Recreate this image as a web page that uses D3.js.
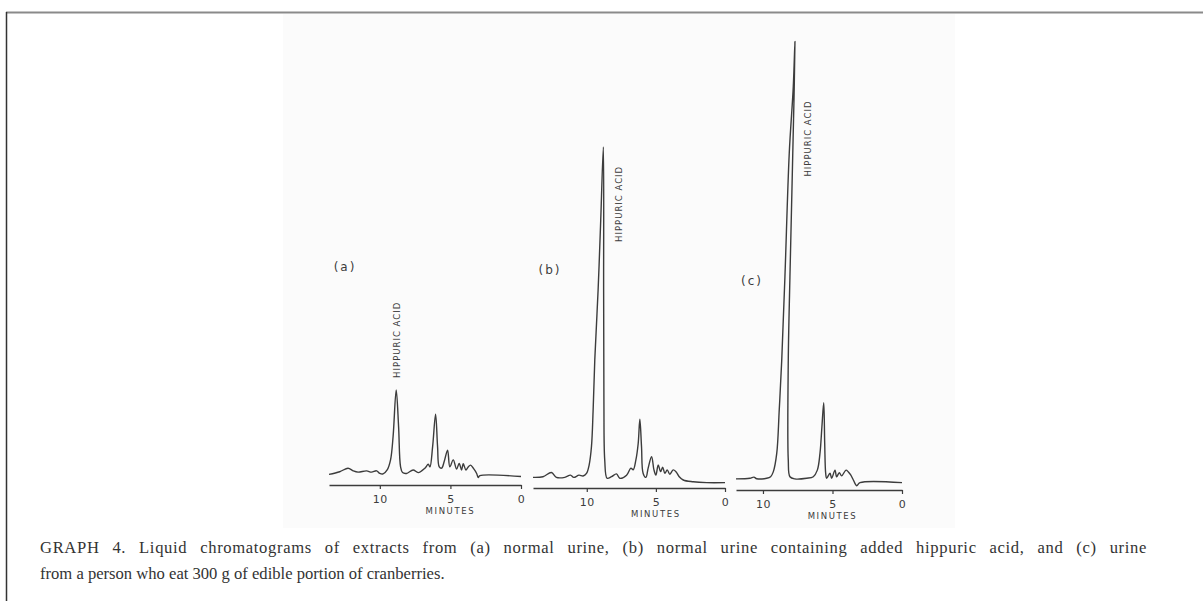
<!DOCTYPE html>
<html>
  <head>
    <title>Liquid chromatograms</title>
    <script src="https://cdn.jsdelivr.net/npm/d3@7"></script>
    <style>
      body { margin: 0; background: #ffffff; }
    </style>
  </head>
  <body>
    <svg width="1203" height="601" id="mainsvg"></svg>
    <script>
        // values (minutes, detector response in % of full scale)
        const timeA = [13.6, 12.84, 12.25, 11.89, 11.54, 10.94, 10.59, 10.23, 10.0, 9.77, 9.48, 9.24, 9.06, 8.84, 8.67, 8.53, 8.39, 8.11, 7.64, 7.28,
            6.81, 6.57, 6.45, 6.26, 6.05, 5.91, 5.79, 5.62, 5.44, 5.20, 5.04, 4.80, 4.56, 4.38, 4.21, 4.09, 3.90, 3.74, 3.57, 3.38,
            3.14, 3.03, 2.91, 0.0];
        const respA = [0.6, 1.2, 2.0, 1.4, 1.1, 1.4, 1.1, 1.4, 0.8, 0.7, 1.6, 3.9, 9.2, 19.8, 11.4, 2.3, 1.0, 0.8, 1.6, 1.0,
            2.0, 2.9, 2.3, 6.9, 14.3, 6.9, 2.3, 2.0, 3.5, 6.1, 2.3, 3.9, 1.8, 3.1, 1.6, 3.0, 1.6, 2.3, 2.7, 2.0,
            0.8, -0.1, 0.3, 0.1];

        const timeB = [13.89, 13.17, 12.56, 12.20, 11.59, 11.18, 10.94, 10.56, 10.27, 10.02, 9.83, 9.66, 9.54, 9.42, 9.18, 8.99, 8.80, 8.78, 8.76, 8.70,
            8.53, 8.21, 7.85, 7.61, 7.12, 6.81, 6.64, 6.45, 6.28, 6.16, 6.04, 5.92, 5.72, 5.56, 5.31, 5.14, 5.00, 4.83, 4.66, 4.51,
            4.35, 4.18, 3.99, 3.75, 3.55, 3.31, 3.02, 2.30, 1.33, 0.0];
        const respB = [0.6, 0.75, 1.7, 0.6, 0.6, 1.1, 0.6, 1.1, 0.9, 1.5, 3.4, 7.6, 15.9, 27.3, 43.2, 59.1, 75.7, 43.2, 18.2, 4.5,
            0.4, 0.75, 1.4, 0.4, 1.1, 2.7, 2.3, 4.5, 8.3, 13.8, 7.6, 1.5, 0.6, 2.7, 5.3, 2.3, 1.1, 3.4, 1.9, 2.9,
            1.5, 2.3, 1.3, 2.3, 1.9, 0.75, 0.0, -0.4, -0.6, -0.6];

        const timeC = [11.94, 10.94, 10.65, 10.45, 9.73, 9.45, 9.26, 9.01, 8.83, 8.65, 8.42, 8.11, 7.82, 7.70, 7.77, 8.06, 8.18, 8.18, 8.06, 7.70,
            6.86, 6.38, 6.09, 5.90, 5.76, 5.63, 5.56, 5.49, 5.42, 5.18, 5.06, 4.82, 4.70, 4.51, 4.34, 4.03, 3.86, 3.69, 3.50, 3.26,
            3.02, 0.0];
        const respC = [0.7, 0.85, 1.1, 0.75, 0.85, 1.2, 2.3, 6.5, 16.4, 27.7, 46.7, 74.7, 89.8, 100.1, 86.8, 46.7, 27.7, 5.0, 1.2, 0.7,
            0.85, 1.2, 2.7, 6.5, 12.6, 18.0, 8.8, 2.0, 0.85, 2.0, 0.85, 2.7, 1.2, 2.1, 1.4, 2.7, 2.3, 1.6, 0.45, -0.85,
            -0.15, -0.15];

        const tickValues = [10, 5, 0];
        const panelLabels = ['(a)', '(b)', '(c)'];
        const peakLabel = 'HIPPURIC ACID';
        const axisTitle = 'MINUTES';
        const captionLines = [
            'GRAPH 4. Liquid chromatograms of extracts from (a) normal urine, (b) normal urine containing added hippuric acid, and (c) urine',
            'from a person who eat 300 g of edible portion of cranberries.'
        ];

        const svg = d3.select('#mainsvg');
        const ink = '#3c3c3c';
        const chartFont = '"DejaVu Sans", sans-serif';

        // frame lines of the page
        svg.append('line').attr('x1', 6).attr('x2', 1203).attr('y1', 12.5).attr('y2', 12.5)
            .attr('stroke', '#8a8a8a').attr('stroke-width', 2);
        svg.append('line').attr('x1', 6.5).attr('x2', 6.5).attr('y1', 12).attr('y2', 601)
            .attr('stroke', '#333').attr('stroke-width', 1.5);

        // scanned figure background
        svg.append('rect').attr('x', 283).attr('y', 14).attr('width', 672).attr('height', 514)
            .attr('fill', '#fbfbfb');

        // layout of the three recorder traces; labelDy = distance of label foot below the peak top
        const panels = [
            {times: timeA, resp: respA, t0: 13.6,  x0: 329, x1: 521, axisY: 485, base: 477,
             label: [345, 271], labelDx: 4, labelDy: -12},
            {times: timeB, resp: respB, t0: 13.89, x0: 533, x1: 725, axisY: 488, base: 480,
             label: [550, 274], labelDx: 19, labelDy: 95},
            {times: timeC, resp: respC, t0: 11.94, x0: 736, x1: 902, axisY: 490, base: 482,
             label: [752, 285], labelDx: 16, labelDy: 135}
        ];

        panels.forEach((p, i) => {
            const xScale = d3.scaleLinear().domain([p.t0, 0]).range([p.x0, p.x1]);
            const yScale = d3.scaleLinear().domain([0, 100]).range([p.base, p.base - 440]);
            const g = svg.append('g');

            const xAxis = d3.axisBottom(xScale)
                .tickValues(tickValues)
                .tickSize(4)
                .tickSizeOuter(0)
                .tickPadding(6)
                .tickFormat(d3.format('d'));
            const axisG = g.append('g').attr('transform', `translate(0, ${p.axisY})`).call(xAxis);
            axisG.select('.domain').attr('stroke', ink).attr('stroke-width', 1.4);
            axisG.selectAll('.tick line').attr('stroke', ink).attr('stroke-width', 1.2);
            axisG.selectAll('.tick text')
                .attr('fill', ink)
                .style('font-family', chartFont)
                .style('font-size', '11px')
                .style('letter-spacing', '0.5px');

            g.append('text')
                .attr('x', xScale(5))
                .attr('y', p.axisY + 29)
                .attr('text-anchor', 'middle')
                .attr('fill', ink)
                .style('font-family', chartFont)
                .style('font-size', '8.5px')
                .style('letter-spacing', '1.6px')
                .text(axisTitle);

            const pts = p.times.map((t, k) => [t, p.resp[k]]);
            const line = d3.line()
                .curve(d3.curveCatmullRom.alpha(0.5))
                .x(d => xScale(d[0]))
                .y(d => yScale(d[1]));
            g.append('path')
                .datum(pts)
                .attr('d', line)
                .attr('fill', 'none')
                .attr('stroke', ink)
                .attr('stroke-width', 1.4)
                .attr('stroke-linejoin', 'round');

            // label beside the hippuric acid peak
            const peak = pts.reduce((a, b) => (b[1] > a[1] ? b : a));
            const lx = xScale(peak[0]) + p.labelDx;
            const ly = yScale(peak[1]) + p.labelDy;
            g.append('text')
                .attr('transform', `translate(${lx}, ${ly}) rotate(-90)`)
                .attr('fill', ink)
                .style('font-family', chartFont)
                .style('font-size', '8.5px')
                .style('letter-spacing', '1px')
                .text(peakLabel);

            g.append('text')
                .attr('x', p.label[0])
                .attr('y', p.label[1])
                .attr('text-anchor', 'middle')
                .attr('fill', ink)
                .style('font-family', chartFont)
                .style('font-size', '12px')
                .style('letter-spacing', '2px')
                .text(panelLabels[i]);
        });

        // caption, first line justified to the full text width
        const cap = svg.append('g').attr('fill', '#333')
            .style('font-family', '"Liberation Serif", serif')
            .style('font-size', '16.6px');
        const l1 = cap.append('text').attr('x', 40).attr('y', 553).text(captionLines[0]);
        cap.append('text').attr('x', 40).attr('y', 579).text(captionLines[1]);
        const natural = l1.node().getComputedTextLength();
        const extra = 1107 - natural;
        const nChars = captionLines[0].length;
        const nSpaces = captionLines[0].split(' ').length - 1;
        l1.style('letter-spacing', (extra * 0.35 / nChars) + 'px')
          .style('word-spacing', (extra * 0.65 / nSpaces) + 'px');
    </script>
  </body>
</html>
